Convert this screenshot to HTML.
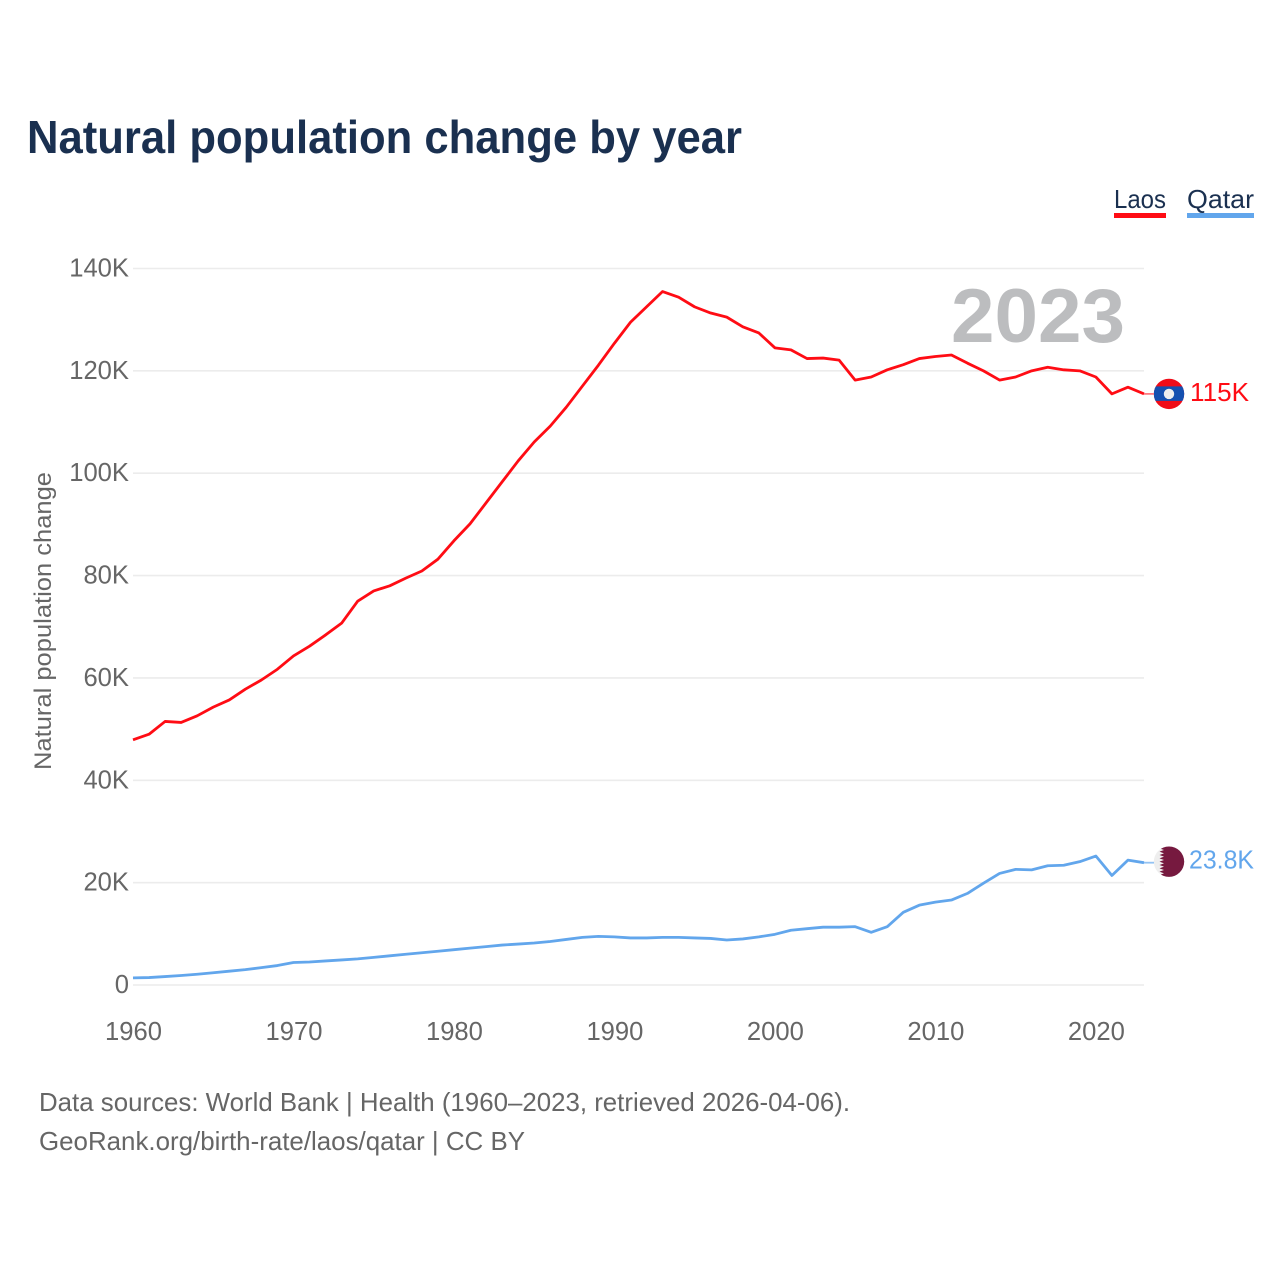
<!DOCTYPE html>
<html lang="en">
<head>
<meta charset="utf-8">
<title>Natural population change by year</title>
<style>
html,body{margin:0;padding:0;background:#fff;}
svg{display:block;}
text{font-family:"Liberation Sans",sans-serif;}
</style>
</head>
<body>
<svg id="chart" xmlns="http://www.w3.org/2000/svg" width="1280" height="1280" viewBox="0 0 1280 1280">
  <rect width="1280" height="1280" fill="#fff"/>
  <text x="27" y="153" font-size="46" font-weight="700" fill="#1a3050" textLength="715" lengthAdjust="spacingAndGlyphs">Natural population change by year</text>

  <g id="gridlines"></g>
  <g id="y-ticks"></g>
  <g id="x-ticks"></g>
  <text transform="translate(51,770) rotate(-90)" font-size="24" fill="#666" textLength="298" lengthAdjust="spacingAndGlyphs">Natural population change</text>
  <text x="951" y="342" font-size="76" font-weight="700" fill="#bcbdbf" textLength="174" lengthAdjust="spacingAndGlyphs">2023</text>
  <g id="series"></g>

  <g id="flag-laos">
    <clipPath id="clip-laos"><circle cx="0" cy="0" r="15.2"/></clipPath>
    <g clip-path="url(#clip-laos)">
      <rect x="-16" y="-16" width="32" height="32" fill="#f00c18"/>
      <rect x="-16" y="-7.5" width="32" height="14.5" fill="#1550b0"/>
      <circle cx="0" cy="0" r="5.2" fill="#eee"/>
    </g>
  </g>
  <g id="flag-qatar">
    <clipPath id="clip-qatar"><circle cx="0" cy="0" r="15.2"/></clipPath>
    <g clip-path="url(#clip-qatar)">
      <rect x="-16" y="-16" width="32" height="32" fill="#eeeeee"/>
      <polygon fill="#76193f" points="16,-16 -5,-16 -5,-15 -9.5,-13.3 -5,-11.7 -9.5,-10 -5,-8.3 -9.5,-6.7 -5,-5 -9.5,-3.3 -5,-1.7 -9.5,0 -5,1.7 -9.5,3.3 -5,5 -9.5,6.7 -5,8.3 -9.5,10 -5,11.7 -9.5,13.3 -5,15 -5,16 16,16"/>
    </g>
  </g>
  <g id="end-labels"></g>

  <g>
    <text x="1114" y="208" font-size="26" fill="#1a3050" textLength="52" lengthAdjust="spacingAndGlyphs">Laos</text>
    <rect x="1114" y="213" width="52" height="5" fill="#ff0c14"/>
  </g>
  <g>
    <text x="1187" y="208" font-size="26" fill="#1a3050" textLength="67" lengthAdjust="spacingAndGlyphs">Qatar</text>
    <rect x="1187" y="213" width="67" height="5" fill="#62a6ec"/>
  </g>

  <text x="39" y="1111" font-size="26" fill="#666" textLength="811" lengthAdjust="spacingAndGlyphs">Data sources: World Bank | Health (1960–2023, retrieved 2026-04-06).</text>
  <text x="39" y="1150" font-size="26" fill="#666" textLength="486" lengthAdjust="spacingAndGlyphs">GeoRank.org/birth-rate/laos/qatar | CC BY</text>
</svg>

<script>
const startYear = 1960;
const laosValues = [
  47.9,49.0,51.5,51.3,52.6,54.3,55.7,57.8,59.6,61.7,
  64.3,66.2,68.4,70.7,75.0,77.0,78.0,79.5,80.9,83.2,
  86.8,90.1,94.2,98.3,102.4,106.1,109.2,112.9,117.0,121.1,
  125.4,129.5,132.5,135.5,134.4,132.5,131.3,130.5,128.6,127.4,
  124.5,124.1,122.4,122.5,122.1,118.2,118.8,120.2,121.2,122.4,
  122.8,123.1,121.5,120.0,118.2,118.8,120.0,120.7,120.2,120.0,
  118.8,115.5,116.8,115.5
];
const qatarValues = [
  1.4,1.45,1.65,1.85,2.1,2.4,2.7,3.0,3.4,3.8,
  4.4,4.5,4.7,4.9,5.1,5.4,5.7,6.0,6.3,6.6,
  6.9,7.2,7.5,7.8,8.0,8.2,8.5,8.9,9.3,9.5,
  9.4,9.2,9.2,9.3,9.3,9.2,9.1,8.8,9.0,9.4,
  9.9,10.7,11.0,11.3,11.3,11.4,10.3,11.4,14.2,15.6,
  16.2,16.6,17.9,19.9,21.8,22.6,22.5,23.3,23.4,24.1,
  25.2,21.4,24.4,23.9
];
const yTickValues = [0,20,40,60,80,100,120,140];
const yTickLabels = ["0","20K","40K","60K","80K","100K","120K","140K"];
const xTickValues = [1960,1970,1980,1990,2000,2010,2020];
const endLabelLaos = "115K";
const endLabelQatar = "23.8K";

const NS = "http://www.w3.org/2000/svg";
function xScale(year){ return 133 + (year - 1960) * (1144 - 133) / 63; }
function yScale(v){ return 985 - v * (985 - 268.5) / 140; }
function make(tag, attrs, parent){
  const el = document.createElementNS(NS, tag);
  for (const k in attrs) el.setAttribute(k, attrs[k]);
  parent.appendChild(el);
  return el;
}

const gridG = document.getElementById('gridlines');
const yG = document.getElementById('y-ticks');
yTickValues.forEach(function(v, i){
  const line = make('line', {x1:133, x2:1144, y1:yScale(v), y2:yScale(v), stroke:'#ececec', 'stroke-width':1.6}, gridG);
  
  
  const t = make('text', {x:129, y:yScale(v)+8, 'text-anchor':'end', 'font-size':25.6, fill:'#666'}, yG);
  
  
  t.textContent = yTickLabels[i];
});

const xG = document.getElementById('x-ticks');
xTickValues.forEach(function(y){
  const t = make('text', {x:xScale(y)+0.5, y:1040, 'text-anchor':'middle', 'font-size':25.6, fill:'#666'}, xG);
  
  
  t.textContent = String(y);
});

function pathFor(values){
  return values.map(function(v, i){
    return (i ? 'L' : 'M') + xScale(startYear + i).toFixed(2) + ' ' + yScale(v).toFixed(2);
  }).join(' ');
}
const seriesG = document.getElementById('series');
const laosLine = make('path', {d:pathFor(laosValues), fill:'none', stroke:'#ff0c14', 'stroke-width':2.8, 'stroke-linejoin':'round'}, seriesG);


const qatarLine = make('path', {d:pathFor(qatarValues), fill:'none', stroke:'#62a6ec', 'stroke-width':2.8, 'stroke-linejoin':'round'}, seriesG);



const lastYear = startYear + laosValues.length - 1;
const laosEndY = yScale(laosValues[laosValues.length - 1]);
const qatarEndY = yScale(qatarValues[qatarValues.length - 1]);
const endG = document.getElementById('end-labels');

const laosConnector = make('line', {x1:xScale(lastYear), x2:xScale(lastYear)+10, y1:laosEndY, y2:laosEndY, stroke:'#ff7a80', 'stroke-width':1.8}, endG);


const qatarConnector = make('line', {x1:xScale(lastYear), x2:xScale(lastYear)+10, y1:qatarEndY, y2:qatarEndY, stroke:'#94c2f2', 'stroke-width':1.8}, endG);



document.getElementById('flag-laos').setAttribute('transform', 'translate(' + (xScale(lastYear)+25) + ',' + laosEndY + ')');
document.getElementById('flag-qatar').setAttribute('transform', 'translate(' + (xScale(lastYear)+25) + ',' + (qatarEndY-1) + ')');

const laosEnd = make('text', {x:xScale(lastYear)+46, y:laosEndY+7, 'font-size':25.6, fill:'#ff0c14', textLength:59, lengthAdjust:'spacingAndGlyphs'}, endG);


laosEnd.textContent = endLabelLaos;
const qatarEnd = make('text', {x:xScale(lastYear)+45, y:qatarEndY+6, 'font-size':25.6, fill:'#62a6ec', textLength:65, lengthAdjust:'spacingAndGlyphs'}, endG);


qatarEnd.textContent = endLabelQatar;
</script>
</body>
</html>
